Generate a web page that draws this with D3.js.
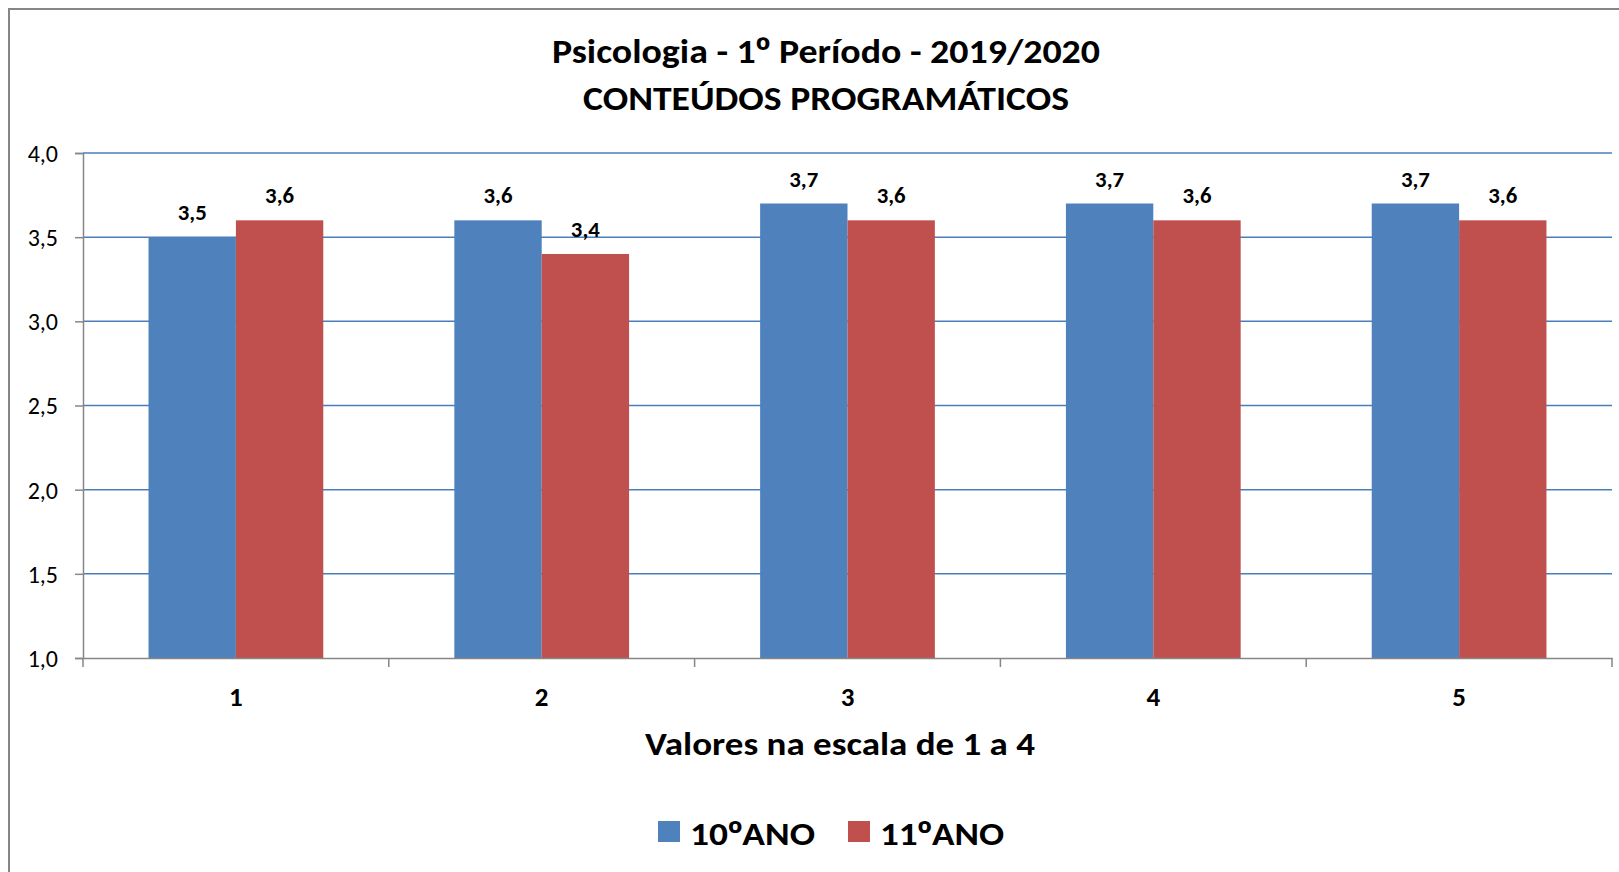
<!DOCTYPE html>
<html>
<head>
<meta charset="utf-8">
<script src="https://cdn.jsdelivr.net/npm/d3@7"></script>
<style>
  body { margin: 0; background: #fff; }
  svg { display: block; font-family: Calibri, Carlito, Lato, sans-serif; }
</style>
</head>
<body>
<div id="chart"></div>
<script>
const categories = ["1", "2", "3", "4", "5"];
const seriesNames = ["10ºANO", "11ºANO"];
const values10 = [3.5, 3.6, 3.7, 3.7, 3.7];
const values11 = [3.6, 3.4, 3.6, 3.6, 3.6];
const yTicks = [1.0, 1.5, 2.0, 2.5, 3.0, 3.5, 4.0];
const titleLines = ["Psicologia - 1º Período - 2019/2020", "CONTEÚDOS PROGRAMÁTICOS"];
const xTitle = "Valores na escala de 1 a 4";

const colors = ["#4f81bd", "#c0504d"];
const fmt = d => d3.format(".1f")(d).replace(".", ",");

// Lato draws º as a degree sign, so borrow the ordinal glyph from Noto Sans
function ordinalText(sel, str) {
    str.split(/(º)/).forEach(part => {
        if (!part) return;
        const t = sel.append("tspan").text(part);
        if (part === "º") t.attr("font-family", "'Noto Sans', sans-serif");
    });
}

const svg = d3.select("#chart").append("svg")
    .attr("width", 1619)
    .attr("height", 872);

// chart border (runs off the right/bottom edge)
svg.append("rect")
    .attr("x", 9).attr("y", 9)
    .attr("width", 1700).attr("height", 1000)
    .attr("fill", "none")
    .attr("stroke", "#868686")
    .attr("stroke-width", 2);

const plot = { left: 83, right: 1612, top: 153, bottom: 658 };

const xScale = d3.scaleBand()
    .domain(categories)
    .range([plot.left, plot.right]);

// gap width 150% like the spreadsheet chart
const xInner = d3.scaleBand()
    .domain(seriesNames)
    .range([0, xScale.bandwidth()])
    .paddingInner(0)
    .paddingOuter(0.75);

const yScale = d3.scaleLinear()
    .domain([1, 4])
    .range([plot.bottom, plot.top]);

// gridlines
svg.append("g")
    .selectAll("line")
    .data(yTicks.filter(d => d > 1))
    .enter()
    .append("line")
    .attr("x1", plot.left).attr("x2", plot.right)
    .attr("y1", d => yScale(d)).attr("y2", d => yScale(d))
    .attr("stroke", "#4a7ebb")
    .attr("stroke-width", 1.5);

// bars
const series = [values10, values11];
series.forEach((vals, s) => {
    svg.append("g")
        .selectAll("rect")
        .data(vals)
        .enter()
        .append("rect")
        .attr("x", (d, i) => xScale(categories[i]) + xInner(seriesNames[s]))
        .attr("y", d => yScale(d))
        .attr("width", xInner.bandwidth())
        .attr("height", d => yScale(1) - yScale(d))
        .attr("fill", colors[s]);

    svg.append("g")
        .selectAll("text")
        .data(vals)
        .enter()
        .append("text")
        .attr("x", (d, i) => xScale(categories[i]) + xInner(seriesNames[s]) + xInner.bandwidth() / 2)
        .attr("y", d => yScale(d) - 17)
        .attr("text-anchor", "middle")
        .attr("font-weight", "bold")
        .attr("font-size", 22)
        .attr("textLength", 29)
        .attr("lengthAdjust", "spacingAndGlyphs")
        .text(d => fmt(d));
});

// y axis
const yAxis = svg.append("g")
    .attr("transform", `translate(${plot.left},0)`)
    .call(d3.axisLeft(yScale).tickValues(yTicks).tickSize(8).tickPadding(8).tickFormat(fmt));
yAxis.select(".domain").attr("stroke", "#868686").attr("stroke-width", 1.5);
yAxis.selectAll(".tick line").attr("stroke", "#868686").attr("stroke-width", 1.5);
yAxis.selectAll(".tick text")
    .attr("font-family", "Calibri, Carlito, Lato, sans-serif")
    .attr("font-size", 24)
    .attr("fill", "#000")
    .attr("dy", "0.35em")
    .attr("x", -25);

// x axis: ticks on category boundaries
const xAxis = svg.append("g")
    .attr("transform", `translate(0,${plot.bottom})`)
    .call(d3.axisBottom(xScale).tickSize(0).tickPadding(29));
xAxis.select(".domain").attr("stroke", "#868686").attr("stroke-width", 1.5);
xAxis.selectAll(".tick text")
    .attr("font-family", "Calibri, Carlito, Lato, sans-serif")
    .attr("font-size", 27)
    .attr("font-weight", "bold")
    .attr("fill", "#000");

const bounds = categories.map(c => xScale(c)).concat([plot.right]);
xAxis.selectAll(".bound")
    .data(bounds)
    .enter()
    .append("line")
    .attr("class", "bound")
    .attr("x1", d => d).attr("x2", d => d)
    .attr("y1", 0).attr("y2", 9)
    .attr("stroke", "#868686")
    .attr("stroke-width", 1.5);

// titles
svg.append("text")
    .attr("x", 826).attr("y", 63)
    .attr("text-anchor", "middle")
    .attr("font-weight", "bold")
    .attr("font-size", 35)
    .attr("textLength", 548)
    .attr("lengthAdjust", "spacingAndGlyphs")
    .call(ordinalText, titleLines[0]);

svg.append("text")
    .attr("x", 826).attr("y", 110)
    .attr("text-anchor", "middle")
    .attr("font-weight", "bold")
    .attr("font-size", 35)
    .attr("textLength", 486)
    .attr("lengthAdjust", "spacingAndGlyphs")
    .text(titleLines[1]);

svg.append("text")
    .attr("x", 840).attr("y", 755)
    .attr("text-anchor", "middle")
    .attr("font-weight", "bold")
    .attr("font-size", 32)
    .attr("textLength", 390)
    .attr("lengthAdjust", "spacingAndGlyphs")
    .text(xTitle);

// legend
const legendX = [658, 848];
const legendW = [125, 124];
const legend = svg.append("g");
seriesNames.forEach((name, s) => {
    legend.append("rect")
        .attr("x", legendX[s]).attr("y", 821)
        .attr("width", 22).attr("height", 21)
        .attr("fill", colors[s]);
    legend.append("text")
        .attr("x", legendX[s] + 32).attr("y", 845)
        .attr("font-weight", "bold")
        .attr("font-size", 33)
        .attr("textLength", legendW[s])
        .attr("lengthAdjust", "spacingAndGlyphs")
        .call(ordinalText, name);
});
</script>
</body>
</html>
